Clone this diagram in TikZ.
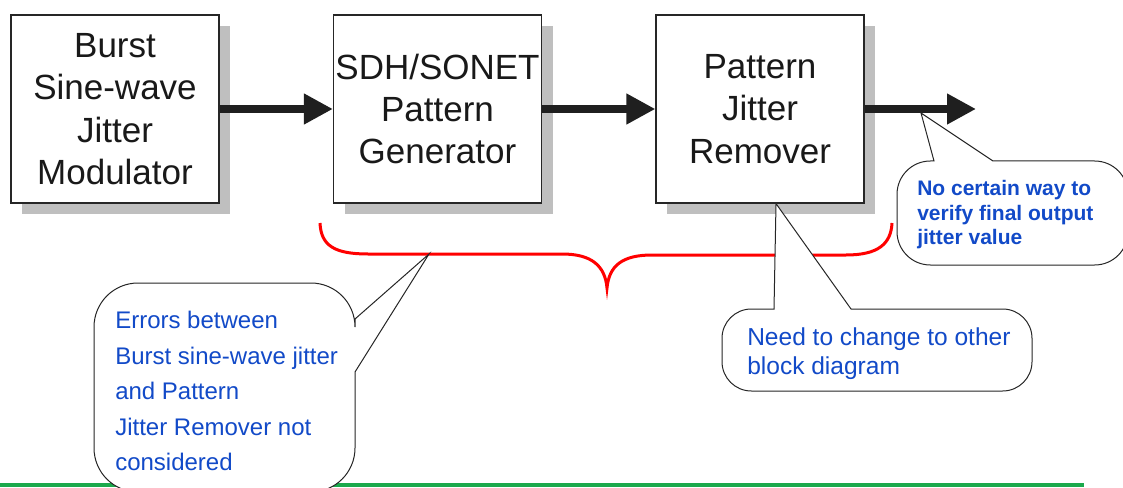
\documentclass[tikz,border=0pt]{standalone}
\usepackage{fontspec}
\setmainfont{Liberation Sans}
\usetikzlibrary{arrows.meta,shadows}
\definecolor{noteblue}{RGB}{18,74,200}
\definecolor{shadowgray}{RGB}{191,191,191}
\definecolor{rulegreen}{RGB}{27,169,76}

\begin{document}
\begin{tikzpicture}[x=0.75pt,y=-0.75pt,node distance=241.875pt]
	\tikzstyle{block}=[draw=black!85,line width=0.9pt,fill=white,minimum width=156pt,minimum height=141pt,inner sep=0pt,align=center,text=black!90,font=\fontsize{26.25pt}{31.7pt}\selectfont,general shadow={fill=shadowgray,shadow xshift=8.25pt,shadow yshift=-8.25pt}]
	\tikzstyle{flow}=[line width=6pt,draw=black!88,-{Triangle[length=21.75pt,width=21.75pt]}]
	\tikzstyle{callout}=[draw=black!85,line width=0.75pt,fill=white]
	\tikzstyle{note}=[text=noteblue,align=left,inner sep=0pt,anchor=north west]

	\useasboundingbox (0,0) rectangle (1123,488);
	\clip (0,0) rectangle (1123,488);

	% green rule at the bottom
	\draw[rulegreen,line width=3pt] (0,485) -- (1084,485);

	% the three blocks
	\node[block] (mod) at (115,109) {Burst\\Sine-wave\\Jitter\\Modulator};
	\node[block] (gen) [right of=mod] {SDH/SONET\\Pattern\\Generator};
	\node[block] (rem) [right of=gen] {Pattern\\Jitter\\Remover};
	\coordinate (out) at (976,109);

	\draw[flow] (mod) -- (gen);
	\draw[flow] (gen) -- (rem);
	\draw[flow] (rem) -- (out);

	% red brace under generator and remover
	\draw[red,line width=2.25pt] (320,223) .. controls (321,246) and (335,254) .. (368,254) -- (562,254)
		.. controls (592,254) and (605,266) .. (607,288) .. controls (609,266) and (622,255) .. (652,255)
		-- (846,255) .. controls (878,255) and (891,244) .. (892,223);
	\coordinate (bracetip) at (429,254);
	\coordinate (remtip) at ([xshift=12pt]rem.south);
	\coordinate (outtip) at (921,113);

	% callouts
	\draw[callout] (355,319) -- (bracetip) -- (355,372) [rounded corners=33] -- (355,492) -- (94,492) -- (94,283) -- (355,283) [sharp corners] -- cycle;
	\node[note,font=\fontsize{18pt}{26.6pt}\selectfont] (errnote) at (115,311) {Errors between\\Burst sine-wave jitter\\and Pattern\\Jitter Remover not\\considered};

	\draw[callout] (774,309) -- (remtip) -- (851,309) [rounded corners=22] -- (1032,309) -- (1032,391) -- (722,391) -- (722,309) [sharp corners] -- cycle;
	\node[note,font=\fontsize{18.4pt}{21.75pt}\selectfont] (chgnote) at (747,327) {Need to change to other\\block diagram};

	\draw[callout] (934,161) -- (outtip) -- (993,161) [rounded corners=25] -- (1128,161) -- (1128,265) -- (897,265) -- (897,161) [sharp corners] -- cycle;
	\node[note,font=\bfseries\fontsize{15.75pt}{18.4pt}\selectfont] (outnote) at (917,180) {No certain way to\\verify final output\\jitter value};
\end{tikzpicture}
\end{document}
